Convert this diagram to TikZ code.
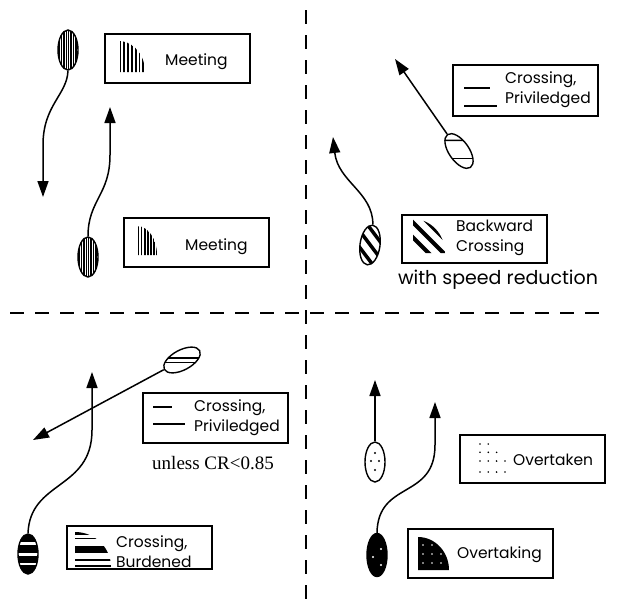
\documentclass[tikz,border=0pt]{standalone}
\usepackage{fontspec}
\setmainfont{Poppins}
\newfontfamily\crfont{Liberation Serif}
\usetikzlibrary{arrows.meta, shapes.geometric}

% quarter of an ellipse, corner at bottom left
\newcommand\iconclip[4]{\clip (#1,#2) -- (#1,#2-#4) arc (-90:0:#3 and #4) -- cycle;}

\tikzset{
  ship/.style={ellipse, draw, line width=1.4pt, minimum width=20pt, minimum height=40pt, inner sep=0pt},
  meetship/.style={ship, path picture={
      \foreach \d in {-9,-6.6,...,9}
        \draw[line width=1.4pt] ([xshift=\d pt]path picture bounding box.north) -- ([xshift=\d pt]path picture bounding box.south);}},
  privship/.style={ship, path picture={
      \foreach \d in {#1}
        \draw[line width=1.3pt] ([yshift=\d pt]path picture bounding box.west) -- ([yshift=\d pt]path picture bounding box.east);}},
  burdship/.style={ship, fill=black, path picture={
      \foreach \d in {10.5,-0.5,-10}
        \draw[white, line width=2.2pt] ([yshift=\d pt]path picture bounding box.west) -- ([yshift=\d pt]path picture bounding box.east);}},
  backship/.style={ship, path picture={
      \foreach \d in {-14,0,14}
        \draw[line width=3.5pt] ([xshift=\d pt]path picture bounding box.center) +(-20,-20) -- +(20,20);}},
  takenship/.style={ship, path picture={
      \foreach \p in {(0,-9),(-4,-1),(4,-1),(0,8)}
        \fill ([shift={\p}]path picture bounding box.center) circle (1.1pt);}},
  takingship/.style={ship, fill=black, path picture={
      \foreach \p in {(4,-6),(-4,2),(4,10)}
        \fill[white] ([shift={\p}]path picture bounding box.center) circle (1.1pt);}},
  legend/.style={draw, line width=1.3pt, minimum width=145pt, minimum height=48pt, inner sep=0pt},
  legtext/.style={anchor=west, align=left, inner sep=0pt, font=\fontsize{15.5}{20}\selectfont},
  route/.style={line width=1.5pt, -{Triangle[length=16pt,width=11pt]}},
  divider/.style={line width=1.3pt, dash pattern=on 14pt off 11pt}
}

\begin{document}
\begin{tikzpicture}[x=1pt, y=-1pt]
\useasboundingbox (0,0) rectangle (619,608);

% quadrant dividers
\draw[divider] (306,10) -- (306,608);
\draw[divider] (10,313) -- (605,313);

% --- meeting ---
\node[meetship] (meetA) at (68,50) {};
\node[meetship] (meetB) at (88,257) {};
\coordinate (meetAtip) at (43,197);
\coordinate (meetBtip) at (110,107);
\draw[route] (meetA.south) .. controls (67,95) and (43,105) .. (43,145) -- (meetAtip);
\draw[route] (meetB.north) .. controls (88,200) and (110,195) .. (110,155) -- (meetBtip);

\node[legend, minimum height=49pt] (meetbox1) at (177.5,58.5) {};
\node[legtext] (meettxt1) at (165,62) {Meeting};
\begin{scope}
  \iconclip{119}{72}{26}{31}
  \foreach \x in {120.5,124.3,...,146} \draw[line width=1.8pt] (\x,73) -- (\x,40);
\end{scope}

\node[legend, minimum height=49pt] (meetbox2) at (196.5,242.5) {};
\node[legtext] (meettxt2) at (185,247) {Meeting};
\begin{scope}
  \iconclip{137}{255}{20}{29}
  \foreach \x in {138.5,141.6,...,158} \draw[line width=1.6pt] (\x,256) -- (\x,224);
\end{scope}

% --- crossing, privileged and backward ---
\node[privship={13,-9}, rotate=35] (privA) at (459,151) {};
\coordinate (privAtip) at (395,59);
\draw[route] (privA.north) -- (privAtip);

\node[legend, minimum height=51pt] (privbox1) at (525.5,90.5) {};
\node[legtext] (privtxt1) at (505,90) {Crossing,\\Priviledged};
\draw[line width=1.5pt] (464,88) -- (490,88);
\draw[line width=1.5pt] (464,106) -- (497,106);

\node[backship, rotate=-8] (back) at (370,245) {};
\coordinate (backtip) at (333,137);
\draw[route] (back.north) .. controls (373,192) and (338,182) .. (backtip);

\node[legend] (backbox) at (474.5,239) {};
\node[legtext] (backtxt) at (456,238) {Backward\\Crossing};
\begin{scope}
  \iconclip{413}{253}{32}{34}
  \foreach \d in {-15,0,15} \draw[line width=4pt] (428+\d,237.5) +(-25,-25) -- +(25,25);
\end{scope}
\node[font=\fontsize{19}{21}\selectfont, inner sep=0pt] (speed) at (498,280) {with speed reduction};

% --- crossing, burdened ---
\node[privship={4,-5}, rotate=-62] (privB) at (182,360) {};
\coordinate (privBtip) at (33,440);
\draw[route] (privB.south) -- (privBtip);

\node[legend, minimum height=50pt] (privbox2) at (215.5,418) {};
\node[legtext] (privtxt2) at (194,418) {Crossing,\\Priviledged};
\draw[line width=1.5pt] (153,407) -- (172,407);
\draw[line width=1.5pt] (153,424) -- (185,424);
\node[font=\crfont\fontsize{19}{21}\selectfont, inner sep=0pt] (unless) at (213,463) {unless CR<0.85};

\node[burdship] (burd) at (28,554) {};
\coordinate (burdtip) at (92,372);
\draw[route] (burd.north) .. controls (30,480) and (92,490) .. (92,430) -- (burdtip);

\node[legend, minimum height=43pt] (burdbox) at (139.5,547.5) {};
\node[legtext] (burdtxt) at (116,552) {Crossing,\\Burdened};
\begin{scope}
  \iconclip{75}{567}{36}{35}
  \draw[line width=2.5pt] (74,533.5) -- (112,533.5);
  \draw[line width=1pt] (74,538) -- (112,538);
  \draw[line width=7pt] (74,549.5) -- (112,549.5);
  \draw[line width=1.8pt] (74,560) -- (112,560);
  \draw[line width=1.8pt] (74,566) -- (112,566);
\end{scope}

% --- overtaking ---
\node[takenship] (taken) at (375,462) {};
\coordinate (takentip) at (375,380);
\draw[route] (taken.north) -- (takentip);

\node[takingship, minimum height=43pt] (taking) at (377,555) {};
\coordinate (takingtip) at (435,402);
\draw[route] (taking.north) .. controls (378,480) and (435,500) .. (435,445) -- (takingtip);

\node[legend] (takenbox) at (532.5,459) {};
\node[legtext] (takentxt) at (513,460) {Overtaken};
\begin{scope}
  \iconclip{477}{476}{32}{35}
  \foreach \x in {480,488.3,496.6,505}
    \foreach \y in {444,452.3,461,472} \fill (\x,\y) circle (0.9pt);
\end{scope}

\node[legend, minimum height=49pt] (takingbox) at (480.5,553.5) {};
\node[legtext] (takingtxt) at (457,555) {Overtaking};
\fill (418,570) -- (418,537) arc (-90:0:31 and 33) -- cycle;
\foreach \x in {423,432,441}
  \foreach \y in {545,554,563} \fill[white] (\x,\y) circle (0.9pt);

\end{tikzpicture}
\end{document}
